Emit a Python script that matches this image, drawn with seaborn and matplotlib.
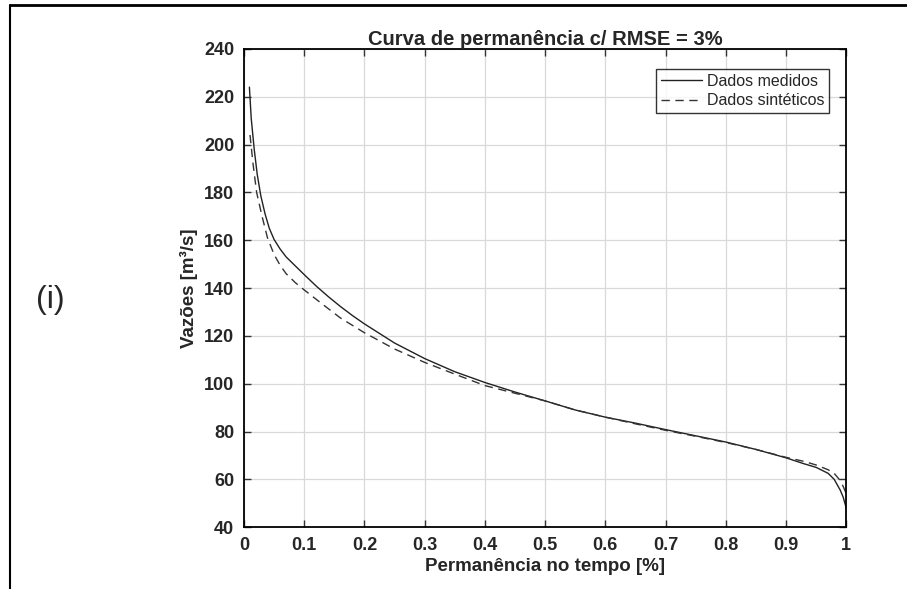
import numpy as np
import pandas as pd
import matplotlib
matplotlib.use("Agg")
import matplotlib.pyplot as plt
import seaborn as sns
from matplotlib.lines import Line2D

# Data
x_med = [0.009, 0.012, 0.017, 0.022, 0.028, 0.035, 0.042, 0.05, 0.06, 0.07, 0.085, 0.1, 0.12, 0.14,
         0.16, 0.18, 0.2, 0.25, 0.3, 0.35, 0.4, 0.45, 0.5, 0.55, 0.6, 0.65, 0.7, 0.75, 0.8, 0.85,
         0.9, 0.93, 0.95, 0.97, 0.98, 0.99, 0.995, 1.0]
y_med = [224, 211, 198, 187.5, 178.5, 171, 165, 160.3, 156.3, 153, 149.3, 145.6, 140.8, 136.4,
         132.3, 128.5, 125, 117, 110.5, 105, 100.5, 96.5, 92.8, 89, 86, 83.5, 80.8, 78.2, 75.6, 72.5,
         69, 66.5, 65, 62.5, 60, 55.5, 52.5, 48]
x_sin = [0.01, 0.015, 0.021, 0.03, 0.039, 0.05, 0.06, 0.07, 0.085, 0.1, 0.13, 0.16, 0.2, 0.25,
         0.3, 0.35, 0.4, 0.45, 0.5, 0.55, 0.6, 0.65, 0.7, 0.75, 0.8, 0.85, 0.9, 0.93, 0.95, 0.97,
         0.98, 0.99, 0.995, 1.0]
y_sin = [204, 192, 180, 170, 161, 154, 149.5, 146, 142.3, 139.2, 133.3, 127.5, 121.3, 114.5,
         108.9, 104, 99.2, 96, 92.8, 89, 86, 83.2, 80.5, 78, 75.4, 72.5, 69.2, 67.5, 66, 64,
         62.5, 59.5, 57, 54]
x_ticks = [0, 0.1, 0.2, 0.3, 0.4, 0.5, 0.6, 0.7, 0.8, 0.9, 1]
x_ticklabels = ["0", "0.1", "0.2", "0.3", "0.4", "0.5", "0.6", "0.7", "0.8", "0.9", "1"]
y_ticks = [40, 60, 80, 100, 120, 140, 160, 180, 200, 220, 240]

sns.set_theme(style="whitegrid")
plt.rcParams['font.family'] = ['Liberation Sans', 'DejaVu Sans']

fig = plt.figure(figsize=(9.07, 5.89), dpi=100)
ax = fig.add_axes([0.269, 0.105, 0.664, 0.812])

df_med = pd.DataFrame({"x": x_med, "y": y_med})
df_sin = pd.DataFrame({"x": x_sin, "y": y_sin})
sns.lineplot(data=df_med, x="x", y="y", ax=ax, color="#222222", lw=1.0, label="Dados medidos")
sns.lineplot(data=df_sin, x="x", y="y", ax=ax, color="#333333", lw=1.0, linestyle=(0, (6, 4)),
             label="Dados sintéticos")

ax.set_xlim(0, 1)
ax.set_ylim(40, 240)
ax.set_xticks(x_ticks)
ax.set_xticklabels(x_ticklabels)
ax.set_yticks(y_ticks)
ax.grid(True, color="#d9d9d9", lw=0.9)
ax.set_facecolor("white")
for s in ax.spines.values():
    s.set_visible(True)
    s.set_color("black")
    s.set_linewidth(1.3)
ax.tick_params(direction="in", length=5, width=1, color="#333333", top=True, right=True,
               bottom=True, left=True, labelsize=13, pad=7)
for lab in ax.get_xticklabels() + ax.get_yticklabels():
    lab.set_fontweight("bold")

ax.set_xlabel("Permanência no tempo [%]", fontsize=13.5, fontweight="bold", labelpad=3)
ax.set_ylabel("Vazões [m³/s]", fontsize=13.5, fontweight="bold", labelpad=4)
ax.set_title("Curva de permanência c/ RMSE = 3%", fontsize=14.5, fontweight="bold", pad=3)

leg = ax.legend(loc="upper right", fontsize=11.5, frameon=True, fancybox=False,
                borderpad=0.3, handlelength=2.6, handletextpad=0.3, labelspacing=0.3,
                bbox_to_anchor=(0.985, 0.975))
leg.get_frame().set_edgecolor("black")
leg.get_frame().set_linewidth(1.0)

fig.text(0.056, 0.49, "(i)", fontsize=23, ha="center", va="center")

# outer frame (top and left edges)
fig.add_artist(Line2D([10 / 907, 1.0], [1 - 5 / 589, 1 - 5 / 589], transform=fig.transFigure,
                      color="black", lw=2))
fig.add_artist(Line2D([10 / 907, 10 / 907], [0, 1 - 5 / 589], transform=fig.transFigure,
                      color="black", lw=1.5))

fig.savefig("out.png", dpi=100, facecolor="white")
